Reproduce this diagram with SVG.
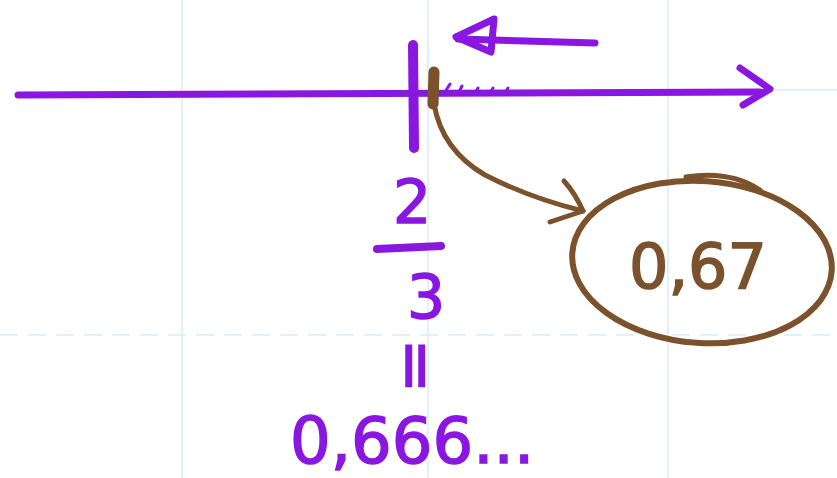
<svg xmlns="http://www.w3.org/2000/svg" width="837" height="478" viewBox="0 0 837 478">
<style>
.grid{stroke:#d6edf7;stroke-width:1.5;fill:none}
.dash{stroke-dasharray:18 10}
.pur{stroke:#8a17e0;fill:none;stroke-linecap:round;stroke-linejoin:round}
.brn{stroke:#7b522c;fill:none;stroke-linecap:round;stroke-linejoin:round}
.tp{font-family:"DejaVu Sans","Liberation Sans",sans-serif;fill:#8a17e0;stroke:#8a17e0;stroke-width:1.5}
.tb{font-family:"DejaVu Sans","Liberation Sans",sans-serif;fill:#7b522c;stroke:#7b522c;stroke-width:1.5}
</style>
<rect width="837" height="478" fill="#ffffff"/>
<g id="grid">
<line class="grid" x1="182" y1="0" x2="182" y2="478"/>
<line class="grid" x1="428" y1="0" x2="428" y2="478"/>
<line class="grid" x1="668" y1="0" x2="668" y2="478"/>
<line class="grid dash" x1="0" y1="335" x2="837" y2="335"/>
<line class="grid" x1="775" y1="90" x2="837" y2="90"/>
</g>
<g id="number-line">
<path class="pur" d="M18 95 L760 92" stroke-width="7"/>
<path class="pur" d="M740 68 L770 89 L743 105" stroke-width="7"/>
<path class="pur" d="M445 92 L450 84 M458 94 L462 86 M475 94 L478 88 M490 93 L493 88 M505 93 L508 88" stroke-width="3"/>
</g>
<g id="tick">
<path class="pur" d="M413 45 L414 148" stroke-width="10"/>
</g>
<g id="point">
<path class="brn" d="M434 72 L433 104" stroke-width="11"/>
</g>
<g id="left-arrow">
<path class="pur" d="M595 43 L458 39" stroke-width="7"/>
<path class="pur" d="M494 19 L456 37 L491 52 Z" stroke-width="7"/>
</g>
<g id="fraction">
<text class="tp" x="412" y="223" font-size="60" text-anchor="middle">2</text>
<path class="pur" d="M377 249 L441 246" stroke-width="8"/>
<text class="tp" x="426" y="318" font-size="60" text-anchor="middle">3</text>
</g>
<g id="equals">
<text class="tp" x="0" y="0" font-size="66" stroke-width="3" text-anchor="middle" transform="translate(395 366) rotate(90)">=</text>
</g>
<g id="decimal">
<text class="tp" x="290" y="463" font-size="64">0,666...</text>
</g>
<g id="rounded">
<ellipse class="brn" cx="702" cy="262" rx="130" ry="81" stroke-width="6" transform="rotate(4 702 262)"/>
<path class="brn" d="M686 177 Q730 170 760 190" stroke-width="5"/>
<text class="tb" x="698" y="288" font-size="62" text-anchor="middle">0,67</text>
</g>
<g id="connectors">
<path class="brn" d="M434 104 Q442 150 485 175 Q530 198 583 211" stroke-width="5"/>
<path class="brn" d="M564 181 Q575 193 583 211 L550 222" stroke-width="5"/>
</g>
</svg>
